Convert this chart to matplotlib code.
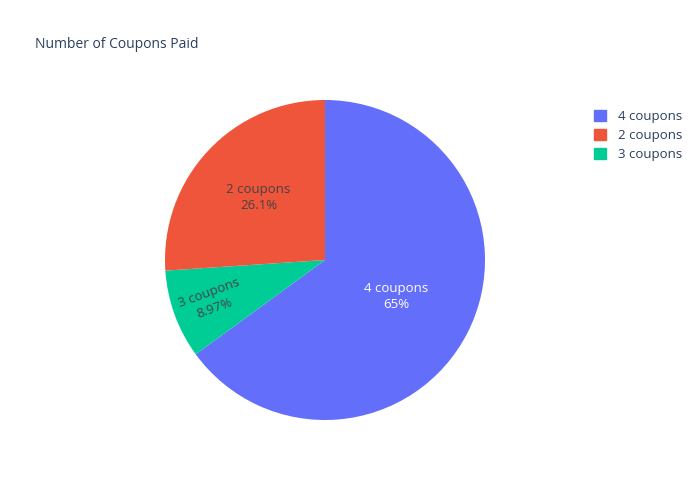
import numpy as np
import matplotlib
matplotlib.use("Agg")
import matplotlib.pyplot as plt
from matplotlib.patches import Patch

# slices in drawing order (clockwise from 12 o'clock)
labels = ["4 coupons", "3 coupons", "2 coupons"]
shares = [64.97, 8.97, 26.06]
colors = ["#636efa", "#00cc96", "#EF553B"]
text_colors = ["white", "#444444", "#444444"]
# legend order follows value size
legend_order = ["4 coupons", "2 coupons", "3 coupons"]

plt.rcParams["font.family"] = ["Open Sans", "DejaVu Sans"]

fig = plt.figure(figsize=(7, 5), dpi=100)
ax = fig.add_axes([165 / 700, 80 / 500, 320 / 700, 320 / 500])

wedges, _ = ax.pie(shares, colors=colors, startangle=90, counterclock=False,
                   wedgeprops=dict(linewidth=0))
ax.set_xlim(-1, 1)
ax.set_ylim(-1, 1)
ax.set_aspect("equal")

# text radius (fraction of R) and whether the label is rotated radially
text_r = [0.5, 0.75, 0.57]
rotate = [False, True, False]
total = sum(shares)
for w, lab, v, c, r, rot in zip(wedges, labels, shares, text_colors, text_r, rotate):
    mid = np.deg2rad((w.theta1 + w.theta2) / 2)
    x, y = r * np.cos(mid), r * np.sin(mid)
    angle = np.rad2deg(mid) - 180 if rot else 0
    pct = "%.3g%%" % (100 * v / total)
    ax.text(x, y, lab + "\n" + pct, ha="center", va="center", color=c,
            fontsize=9.5, rotation=angle, rotation_mode="anchor", linespacing=1.35)

fig.text(35 / 700, 1 - 45 / 500, "Number of Coupons Paid", fontsize=10,
         color="#2a3f5f", va="center")

handles = [Patch(color=colors[labels.index(l)]) for l in legend_order]
leg = fig.legend(handles, legend_order, loc="upper left",
                 bbox_to_anchor=(582 / 700, 1 - 98 / 500), frameon=False,
                 fontsize=9.5, handlelength=0.9, handleheight=0.9,
                 handletextpad=0.9, labelspacing=0.45)
for t in leg.get_texts():
    t.set_color("#2a3f5f")

fig.savefig("out.png", dpi=100)
